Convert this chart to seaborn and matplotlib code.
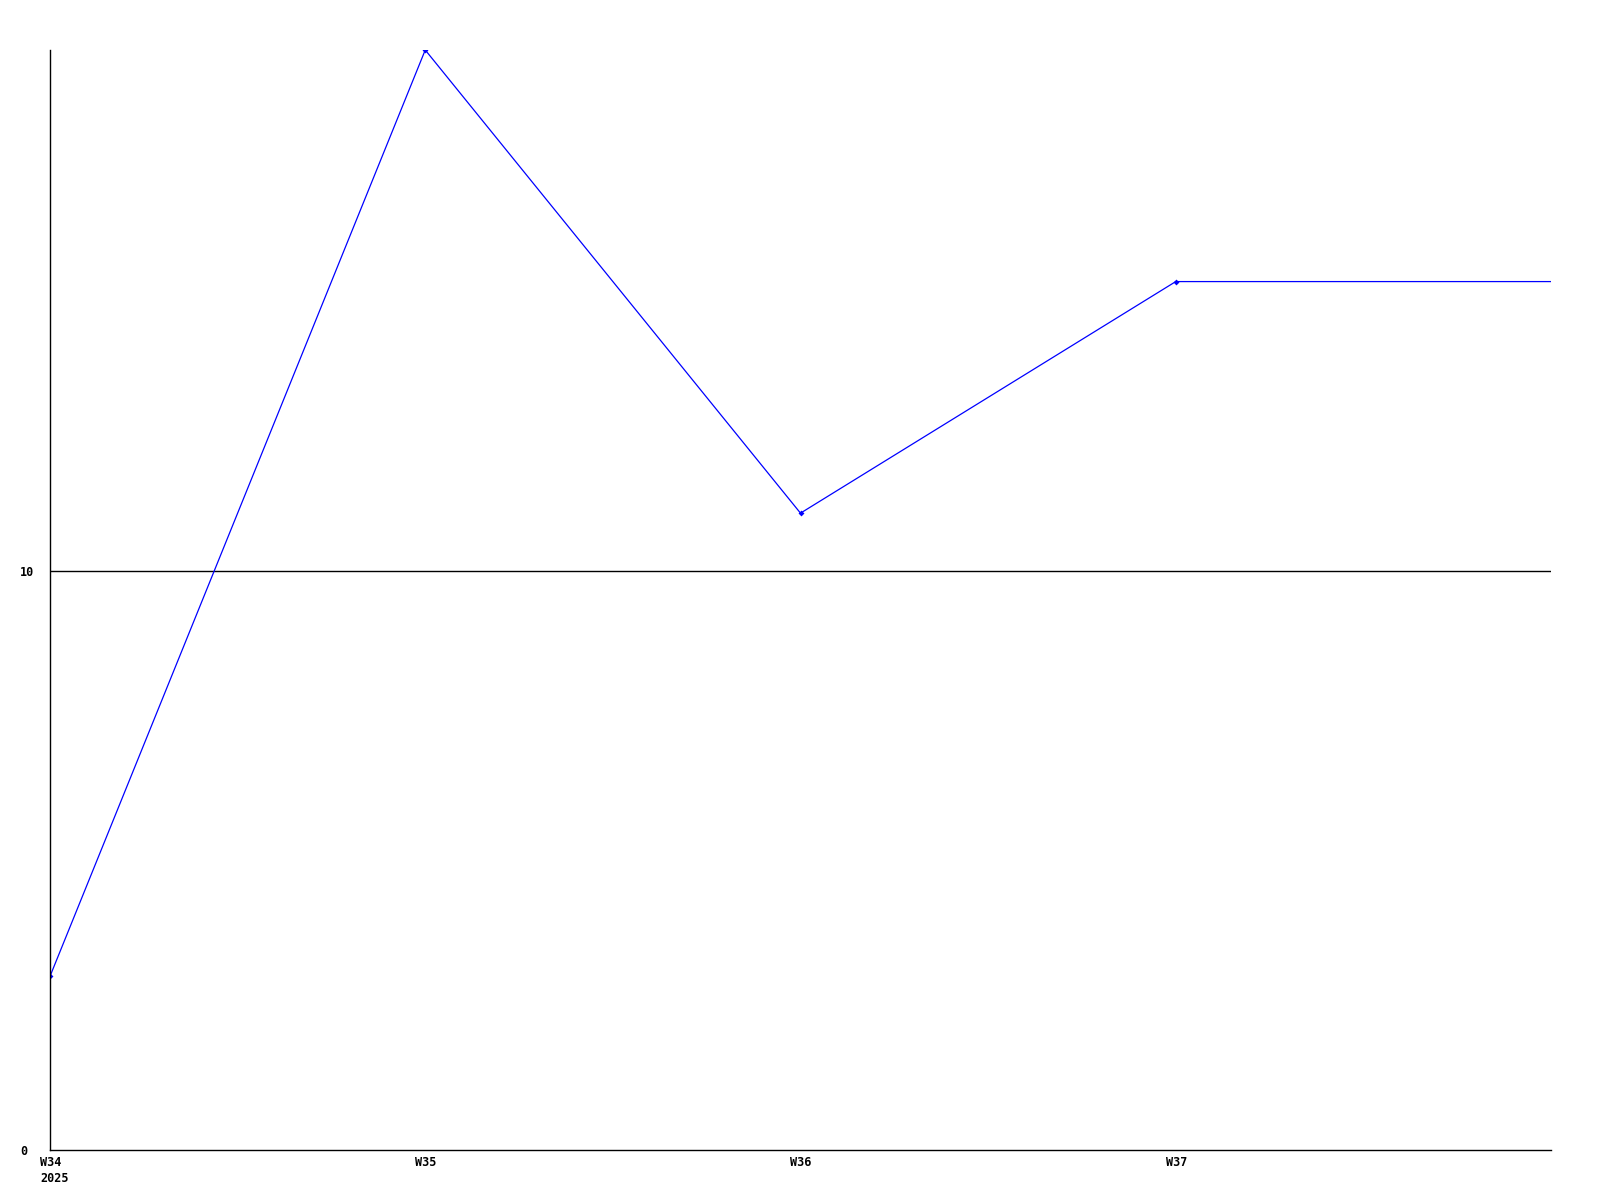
import matplotlib
matplotlib.use('Agg')
import matplotlib.pyplot as plt
import matplotlib.transforms as mtransforms
import seaborn as sns
import pandas as pd

# weekly values; the last value is carried to the right edge
weeks = ['W34', 'W35', 'W36', 'W37']
values = [3, 19, 11, 15]
tick_labels = ['W34\n2025', 'W35', 'W36', 'W37']
y_ticks = [0, 10]

df = pd.DataFrame({'pos': list(range(len(weeks))) + [len(weeks)],
                   'value': values + [values[-1]]})

sns.set_style('white')
plt.rcParams['font.family'] = ['DejaVu Sans Mono', 'DejaVu Sans']

fig = plt.figure(figsize=(16, 12), dpi=100)
ax = fig.add_axes([50 / 1600, 50 / 1200, 1501 / 1600, 1100 / 1200])

sns.lineplot(data=df, x='pos', y='value', ax=ax, color='#0000ff', linewidth=0.9,
             marker='D', markersize=3, markeredgewidth=0, markevery=list(range(len(weeks))))

ax.set_xlim(0, len(weeks))
ax.set_ylim(0, max(values))
ax.set_xticks(range(len(weeks)))
ax.set_xticklabels(tick_labels, fontsize=8.5, fontweight='bold', ha='left', va='top',
                   color='black', linespacing=1.3)
ax.set_yticks(y_ticks)
ax.set_yticklabels([str(v) for v in y_ticks], fontsize=8.5, fontweight='bold', ha='left',
                   color='black')
ax.tick_params(axis='both', length=0)
ax.tick_params(axis='y', pad=21.6)
ax.tick_params(axis='x', pad=4)
shift = mtransforms.ScaledTranslation(-10 / 100, 0, fig.dpi_scale_trans)
for lab in ax.get_xticklabels():
    lab.set_transform(lab.get_transform() + shift)

ax.set_xlabel('')
ax.set_ylabel('')
for y in y_ticks[1:]:
    ax.axhline(y, color='black', linewidth=1, zorder=1)

for side in ['top', 'right']:
    ax.spines[side].set_visible(False)
for side in ['left', 'bottom']:
    ax.spines[side].set_color('black')
    ax.spines[side].set_linewidth(1)

fig.savefig('out.png', dpi=100)
